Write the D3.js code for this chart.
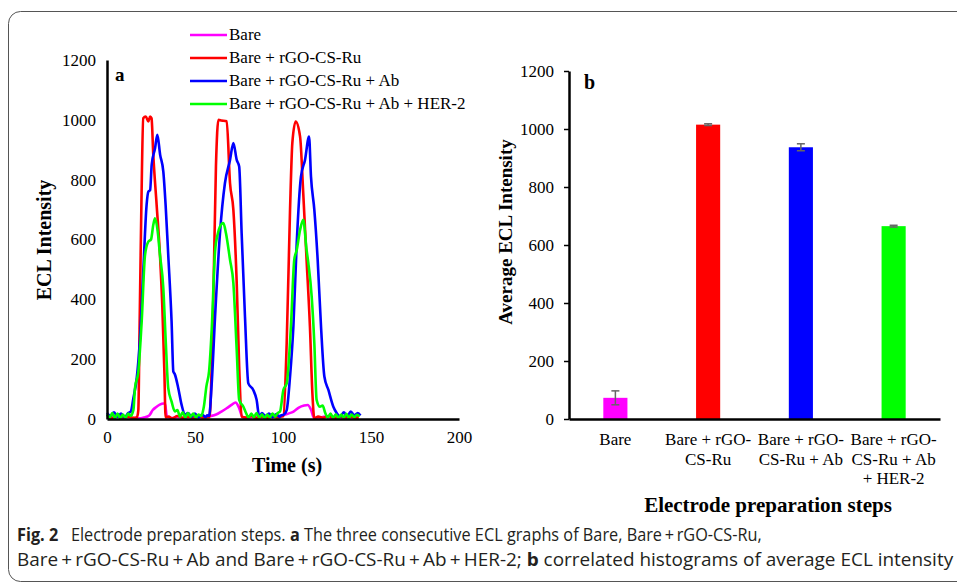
<!DOCTYPE html>
<html>
<head>
<meta charset="utf-8">
<script src="https://cdn.jsdelivr.net/npm/d3@7"></script>
<style>
  body { margin: 0; background: #fff; }
  svg { display: block; }
  text { font-family: "Liberation Serif", "Times New Roman", serif; fill: #000; }
</style>
</head>
<body>
<svg id="chart" width="957" height="584"></svg>
<script>
// ---- panel a: ECL intensity vs time, [time (s), intensity]
const bare = [[0,5],[3,3],[6,8],[9,4],[12,6],[15,3],[18,2],[21,5],[24,12],[26,30],[28,40],[30,48],[32,52],[33,50],[34,8],[36,3],[40,6],[44,4],[48,8],[52,5],[56,7],[59,10],[62,15],[65,25],[68,36],[71,48],[73,55],[75,38],[77,6],[80,4],[84,8],[88,5],[92,7],[96,10],[100,12],[103,18],[106,25],[109,38],[112,45],[114,47],[116,30],[117.5,5],[120,4],[124,8],[128,3],[132,6],[136,4],[140,7],[143,5]];

const rgo = [[0,10],[3,4],[6,12],[9,5],[12,8],[15,4],[17,6],[17.8,30],[18.5,300],[19.5,700],[20.6,1005],[22,1011],[23.5,995],[24.5,1011],[25.3,1005],[26.3,883],[28.2,716],[30.1,548],[31.4,381],[32.6,158],[33.3,5],[35,8],[37,2],[40,10],[43,4],[46,8],[49,3],[52,10],[55,5],[58,6],[58.5,20],[60.4,398],[61.9,844],[63.3,1000],[65,998],[68,995],[69.9,788],[71.8,699],[73.7,455],[75.1,175],[76.5,8],[79,5],[82,10],[85,3],[88,8],[91,4],[94,9],[97,5],[99,8],[100.2,10],[102.1,253],[104,699],[105.3,922],[107.2,994],[109.7,944],[111.5,755],[113.4,532],[115.3,309],[116.7,86],[117.8,2],[120,8],[123,4],[126,10],[129,3],[132,8],[135,5],[138,9],[141,4],[143,6]];

const ab = [[0,20],[2,10],[4,22],[6,8],[8,18],[10,5],[12,20],[13.5,25],[15,70],[16.9,137],[18.75,270],[20.6,493],[22.5,716],[23.5,760],[24.5,765],[25.4,850],[27.3,905],[28.6,950],[30.2,883],[32,827],[33.3,716],[34.8,548],[36.7,325],[37.7,158],[38.5,150],[40.5,103],[42.4,47],[44.3,14],[46,20],[48,8],[50,18],[52,5],[54,15],[56,6],[57,12],[58,10],[59.5,119],[61.4,342],[64.2,621],[67,788],[69.9,866],[71.8,922],[73.7,866],[75.1,844],[76.5,621],[78.4,342],[80.3,119],[83.1,97],[85,64],[86.5,8],[88,20],[90,10],[92,18],[94,6],[96,16],[98,8],[99,12],[100.5,15],[102.1,30],[104,142],[105.9,309],[107.8,588],[110.2,810],[112.5,866],[114.8,944],[115.9,810],[117.8,699],[119.7,532],[121.6,309],[123.5,142],[125.8,97],[128.6,41],[130.5,20],[132.5,8],[134.5,22],[136.5,10],[138.5,25],[140.5,12],[142.5,20],[144,12]];

const her2 = [[0,15],[1.5,5],[3,20],[4.5,3],[6,18],[7.5,2],[9,15],[10.5,4],[12,18],[13.5,10],[15,30],[15.9,103],[17.8,158],[19.7,325],[21.6,548],[23.5,593],[25,600],[26.3,649],[27.3,671],[28.8,627],[30.1,548],[32,437],[33.3,270],[34.8,103],[36.7,58],[38.6,25],[40,30],[41.5,8],[43,22],[44.5,5],[46,20],[47.5,8],[49,18],[50.5,5],[52,15],[53.5,10],[55,40],[56.5,110],[58,160],[59.5,300],[61.4,560],[63,620],[64.2,643],[66.1,655],[67.6,621],[69.9,532],[71.8,454],[73.7,231],[75.1,64],[77.5,41],[79,20],[80.5,5],[82,18],[83.5,6],[85,20],[86.5,4],[88,16],[89.5,3],[91,15],[92.5,5],[94,18],[95.5,8],[97,20],[98.3,25],[100.2,97],[102.1,119],[104.5,309],[106.4,532],[107.8,565],[109.7,632],[111.5,666],[113.4,565],[114.4,521],[116.3,409],[117.8,253],[119.1,64],[121,41],[122.5,45],[124,20],[125.5,5],[127,18],[128.5,4],[130,16],[131.5,3],[133,15],[134.5,5],[136,17],[137.5,4],[139,15],[140.5,6],[142,14],[143.5,8]];

const seriesNames = ["Bare", "Bare + rGO-CS-Ru", "Bare + rGO-CS-Ru + Ab", "Bare + rGO-CS-Ru + Ab + HER-2"];
const seriesColors = ["#ff00ff", "#ff0000", "#0000ff", "#00ff00"];
const timeTicks = [0, 50, 100, 150, 200];
const intensityTicks = [0, 200, 400, 600, 800, 1000, 1200];

// ---- panel b: average ECL intensity per step
const steps = ["Bare", "Bare + rGO-CS-Ru", "Bare + rGO-CS-Ru + Ab", "Bare + rGO-CS-Ru + Ab + HER-2"];
const stepLabels = [["Bare"], ["Bare + rGO-", "CS-Ru"], ["Bare + rGO-", "CS-Ru + Ab"], ["Bare + rGO-", "CS-Ru + Ab", "+ HER-2"]];
const avgIntensity = [73, 1015, 937, 665];
const avgError = [24, 3, 12, 3];

const svg = d3.select("#chart");
const fmt = d3.format("d");

// frame of the figure box
svg.append("rect")
    .attr("x", 8.5).attr("y", 11.5)
    .attr("width", 970).attr("height", 570)
    .attr("rx", 12)
    .attr("fill", "none")
    .attr("stroke", "#555")
    .attr("stroke-width", 1);

// ================= panel a =================
const xa = d3.scaleLinear().domain([0, 200]).range([107, 459]);
const ya = d3.scaleLinear().domain([0, 1200]).range([419, 60]);

const lineA = d3.line()
    .x(d => xa(d[0]))
    .y(d => ya(d[1]))
    .curve(d3.curveMonotoneX);

const ga = svg.append("g");
[bare, rgo, ab, her2].forEach((s, i) => {
    ga.append("path")
        .datum(s)
        .attr("d", lineA)
        .attr("fill", "none")
        .attr("stroke", seriesColors[i])
        .attr("stroke-width", 2.6)
        .attr("stroke-linejoin", "round");
});

// axes
const axAy = ga.append("g")
    .attr("transform", "translate(107,0)")
    .call(d3.axisLeft(ya).tickValues(intensityTicks).tickFormat(fmt).tickSize(0).tickPadding(11));
const axAx = ga.append("g")
    .attr("transform", "translate(0,419)")
    .call(d3.axisBottom(xa).tickValues(timeTicks).tickFormat(fmt).tickSize(0).tickPadding(12));
[axAy, axAx].forEach(ax => {
    ax.select(".domain").attr("stroke", "#000").attr("stroke-width", 2.5);
    ax.selectAll("text").attr("font-size", 17).attr("font-family", "Liberation Serif").attr("fill", "#111");
});

ga.append("text").attr("x", 115).attr("y", 81)
    .attr("font-size", 19).attr("font-weight", "bold").text("a");

ga.append("text").attr("x", 287).attr("y", 472)
    .attr("text-anchor", "middle").attr("font-size", 20).attr("font-weight", "bold")
    .text("Time (s)");

ga.append("text")
    .attr("transform", "translate(51,240) rotate(-90)")
    .attr("text-anchor", "middle").attr("font-size", 20).attr("font-weight", "bold")
    .text("ECL Intensity");

// legend
const legend = svg.append("g");
seriesNames.forEach((n, i) => {
    const y = 35 + i * 23;
    legend.append("line")
        .attr("x1", 190).attr("x2", 227)
        .attr("y1", y).attr("y2", y)
        .attr("stroke", seriesColors[i]).attr("stroke-width", 2.6);
    legend.append("text")
        .attr("x", 229).attr("y", y + 5)
        .attr("font-size", 17).attr("fill", "#111")
        .text(n);
});

// ================= panel b =================
const xb = d3.scaleBand().domain(steps).range([569, 940]).paddingInner(0.74).paddingOuter(0.37);
const yb = d3.scaleLinear().domain([0, 1200]).range([419, 71]);

const gb = svg.append("g");

gb.selectAll("rect.bar")
    .data(steps)
    .enter().append("rect")
    .attr("class", "bar")
    .attr("x", d => xb(d))
    .attr("width", xb.bandwidth())
    .attr("y", (d, i) => yb(avgIntensity[i]))
    .attr("height", (d, i) => yb(0) - yb(avgIntensity[i]))
    .attr("fill", (d, i) => seriesColors[i]);

// error bars
const eb = gb.selectAll("g.err")
    .data(steps)
    .enter().append("g")
    .attr("class", "err")
    .attr("stroke", "#666")
    .attr("stroke-width", 1.5);
eb.append("line")
    .attr("x1", d => xb(d) + xb.bandwidth() / 2)
    .attr("x2", d => xb(d) + xb.bandwidth() / 2)
    .attr("y1", (d, i) => yb(avgIntensity[i] + avgError[i]))
    .attr("y2", (d, i) => yb(avgIntensity[i] - avgError[i]));
[1, -1].forEach(sgn => {
    eb.append("line")
        .attr("x1", d => xb(d) + xb.bandwidth() / 2 - 4)
        .attr("x2", d => xb(d) + xb.bandwidth() / 2 + 4)
        .attr("y1", (d, i) => yb(avgIntensity[i] + sgn * avgError[i]))
        .attr("y2", (d, i) => yb(avgIntensity[i] + sgn * avgError[i]));
});

const axBy = gb.append("g")
    .attr("transform", "translate(569,0)")
    .call(d3.axisLeft(yb).tickValues(intensityTicks).tickFormat(fmt).tickSize(5).tickSizeOuter(0).tickPadding(10));
const axBx = gb.append("g")
    .attr("transform", "translate(0,419)")
    .call(d3.axisBottom(xb).tickSize(0).tickFormat(""));
[axBy, axBx].forEach(ax => {
    ax.select(".domain").attr("stroke", "#000").attr("stroke-width", 2.5);
    ax.selectAll(".tick line").attr("stroke", "#000").attr("stroke-width", 1.5);
    ax.selectAll("text").attr("font-size", 17).attr("font-family", "Liberation Serif").attr("fill", "#111");
});

// multi-line category labels
steps.forEach((s, i) => {
    const t = gb.append("text")
        .attr("text-anchor", "middle")
        .attr("font-size", 17).attr("fill", "#111");
    stepLabels[i].forEach((ln, j) => {
        t.append("tspan")
            .attr("x", xb(s) + xb.bandwidth() / 2)
            .attr("y", 445 + j * 19.5)
            .text(ln);
    });
});

gb.append("text").attr("x", 584).attr("y", 89)
    .attr("font-size", 20).attr("font-weight", "bold").text("b");

gb.append("text").attr("x", 768).attr("y", 512)
    .attr("text-anchor", "middle").attr("font-size", 21).attr("font-weight", "bold")
    .text("Electrode preparation steps");

gb.append("text")
    .attr("transform", "translate(512,232) rotate(-90)")
    .attr("text-anchor", "middle").attr("font-size", 19).attr("font-weight", "bold")
    .text("Average ECL Intensity");

// ================= caption =================
// each line squeezed to the width it takes in the printed figure
const capFont = "'Open Sans', 'DejaVu Sans Condensed', sans-serif";
function captionLine(parts, y, targetWidth) {
    const t = svg.append("text")
        .attr("font-size", 18)
        .style("font-family", capFont)
        .attr("fill", "#231f20");
    parts.forEach(p => {
        t.append("tspan")
            .attr("font-weight", p[1] ? "bold" : "normal")
            .attr("dx", p[2] || 0)
            .style("fill", "#231f20")
            .text(p[0]);
    });
    const w = t.node().getComputedTextLength() + d3.sum(parts, p => p[2] || 0);
    t.attr("transform", `translate(17,${y}) scale(${targetWidth / w},1)`);
}
const sp = "\u2009+\u2009";
captionLine([["Fig. 2", true], ["Electrode preparation steps. ", false, 14], ["a", true],
    [" The three consecutive ECL graphs of Bare, Bare" + sp + "rGO-CS-Ru,", false]], 541, 745);
captionLine([["Bare" + sp + "rGO-CS-Ru" + sp + "Ab and Bare" + sp + "rGO-CS-Ru" + sp + "Ab" + sp + "HER-2; ", false],
    ["b", true], [" correlated histograms of average ECL intensity", false]], 566, 937);
</script>
</body>
</html>
